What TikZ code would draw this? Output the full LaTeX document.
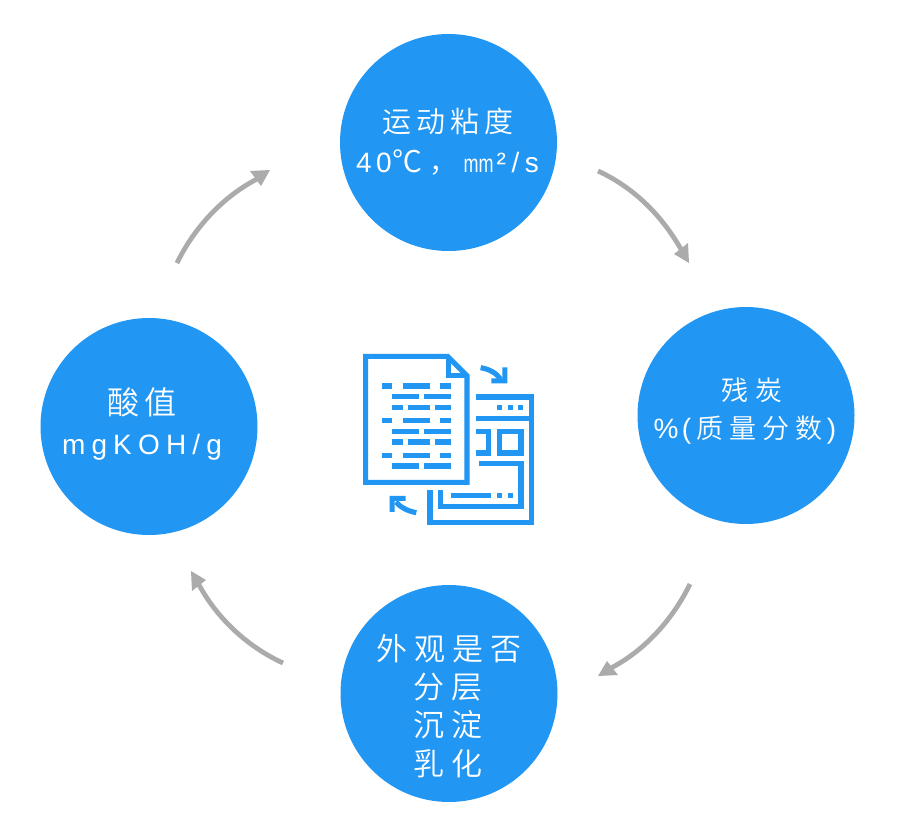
\documentclass[tikz,border=0pt]{standalone}
\usepackage{fontspec}
\newfontfamily\cjk{Noto Sans CJK SC DemiLight}
\newfontfamily\lat{Liberation Sans}
\newcommand{\spc}[1]{\addfontfeatures{LetterSpace=#1}}
\definecolor{blu}{HTML}{2196F3}
\definecolor{arr}{HTML}{ABABAB}
\tikzset{
  disc/.style={circle,fill=blu,minimum size=217pt,inner sep=0pt,text=white,align=center},
  lab/.style={text=white,anchor=center,inner sep=0pt},
  cycle/.style={draw=arr,line width=4.8pt},
  tiphead/.style={fill=arr,draw=none},
  ico/.style={draw=blu,line width=5.1pt,line join=miter,line cap=butt},
  bar/.style={fill=blu,draw=none}
}
\begin{document}
\begin{tikzpicture}[x=1pt,y=-1pt]
\useasboundingbox (0,0) rectangle (900,828);
\fill[white] (0,0) rectangle (900,828);
\node[disc] (visc) at (448.5,142.5) {};
\node[disc] (carb) at (746,415.5) {};
\node[disc] (look) at (449,693.5) {};
\node[disc] (acid) at (149,426.5) {};
% labels
\node[lab] (t1) at (448,121) {\fontsize{29}{29}\selectfont\cjk\spc{17}运动粘度};
\node[lab] (t2) at (447.5,163) {\fontsize{28}{28}\selectfont{\lat\spc{16}40}\hspace{1pt}{\cjk\fontsize{30}{30}\selectfont ℃}\hspace{7pt}{\cjk ，}\hspace{6pt}{\lat\scalebox{0.72}[1]{\fontsize{25}{25}\selectfont mm}}\hspace{3pt}{\lat\spc{20}²/s}};
\node[lab] (t3) at (752,390) {\fontsize{27}{27}\selectfont\cjk\spc{25}残炭};
\node[lab] (t4) at (745,430.5) {\fontsize{28}{28}\selectfont{\lat\spc{12}\%(}\hspace{5pt}{\cjk\fontsize{27}{27}\selectfont\spc{23}质量分数}\hspace{4pt}{\lat )}};
\node[lab] (t5) at (142,402) {\fontsize{32}{32}\selectfont\cjk\spc{16}酸值};
\node[lab] (t6) at (142,447) {\fontsize{28}{28}\selectfont\lat\spc{22}mgKOH/g};
\node[lab] (t7) at (449,649) {\fontsize{31}{31}\selectfont\cjk\spc{22}外观是否};
\node[lab] (t8) at (448,687) {\fontsize{31}{31}\selectfont\cjk\spc{22}分层};
\node[lab] (t9) at (448,725) {\fontsize{31}{31}\selectfont\cjk\spc{22}沉淀};
\node[lab] (t10) at (448,764) {\fontsize{31}{31}\selectfont\cjk\spc{22}乳化};
% cycle arrows
\coordinate (a1s) at (598,171); \coordinate (a1e) at (682,251);
\coordinate (a1t) at (689,263); \coordinate (a1l) at (674,254); \coordinate (a1r) at (688,243);
\draw[cycle] (a1s) .. controls (635,188) and (663,217) .. (a1e);
\fill[tiphead] (a1t) -- (a1l) -- (a1r) -- cycle;
\coordinate (a2s) at (690,584); \coordinate (a2e) at (609,669);
\coordinate (a2t) at (598,676); \coordinate (a2l) at (607,661); \coordinate (a2r) at (618,675);
\draw[cycle] (a2s) .. controls (672,621) and (643,652) .. (a2e);
\fill[tiphead] (a2t) -- (a2l) -- (a2r) -- cycle;
\coordinate (a3s) at (283,663); \coordinate (a3e) at (198,583);
\coordinate (a3t) at (191,571); \coordinate (a3l) at (206,580); \coordinate (a3r) at (192,591);
\draw[cycle] (a3s) .. controls (246,646) and (216,617) .. (a3e);
\fill[tiphead] (a3t) -- (a3l) -- (a3r) -- cycle;
\coordinate (a4s) at (177,263); \coordinate (a4e) at (259,178);
\coordinate (a4t) at (270,170); \coordinate (a4l) at (261,186); \coordinate (a4r) at (250,171);
\draw[cycle] (a4s) .. controls (195,226) and (225,195) .. (a4e);
\fill[tiphead] (a4t) -- (a4l) -- (a4r) -- cycle;
% central icon (coordinates in 3x crop pixels)
\begin{scope}[shift={(350,340)},x=0.3333pt,y=-0.3333pt]
  \draw[ico] (47,49) -- (293,49) -- (351,107) -- (351,427) -- (47,427) -- cycle;
  \draw[ico] (296,49) -- (296,106) -- (351,106);
  \foreach \xa/\xb/\yy in {95/127/138,159/239/138,271/303/138,
     127/207/170,223/303/170,127/159/202,175/239/202,255/303/202,
     95/127/242,159/239/242,271/303/242,
     127/207/274,223/303/274,127/159/306,175/239/306,255/303/306,
     95/127/346,159/239/346,271/303/346,
     127/207/378,223/303/378,
     303/423/467,441/456/467,473/488/467,
     441/456/202,473/488/202,505/520/202}
    {\fill[bar] (\xa,\yy-8) rectangle (\xb,\yy+8);}
  \draw[ico] (378,171) -- (545,171) -- (545,547) -- (240,547) -- (240,451);
  \draw[ico] (378,235) -- (545,235);
  \draw[ico] (378,275) -- (415,275) -- (415,339) -- (378,339);
  \draw[ico] (449,275) rectangle (513,339);
  \draw[ico] (386,371) -- (513,371) -- (513,499) -- (272,499) -- (272,451);
  % small arrows
  \draw[blu,line width=5.1pt] (392,83) .. controls (420,88) and (440,100) .. (452,118);
  \fill[blu] (424,115) -- (424,130) -- (472,130) -- (472,82) -- (457,82) -- (457,115) -- cycle;
  \draw[blu,line width=5.1pt] (199,518) .. controls (170,513) and (150,500) .. (138,486);
  \fill[blu] (167,468) -- (167,483) -- (134,483) -- (134,516) -- (119,516) -- (119,468) -- cycle;
\end{scope}
\end{tikzpicture}
\end{document}
